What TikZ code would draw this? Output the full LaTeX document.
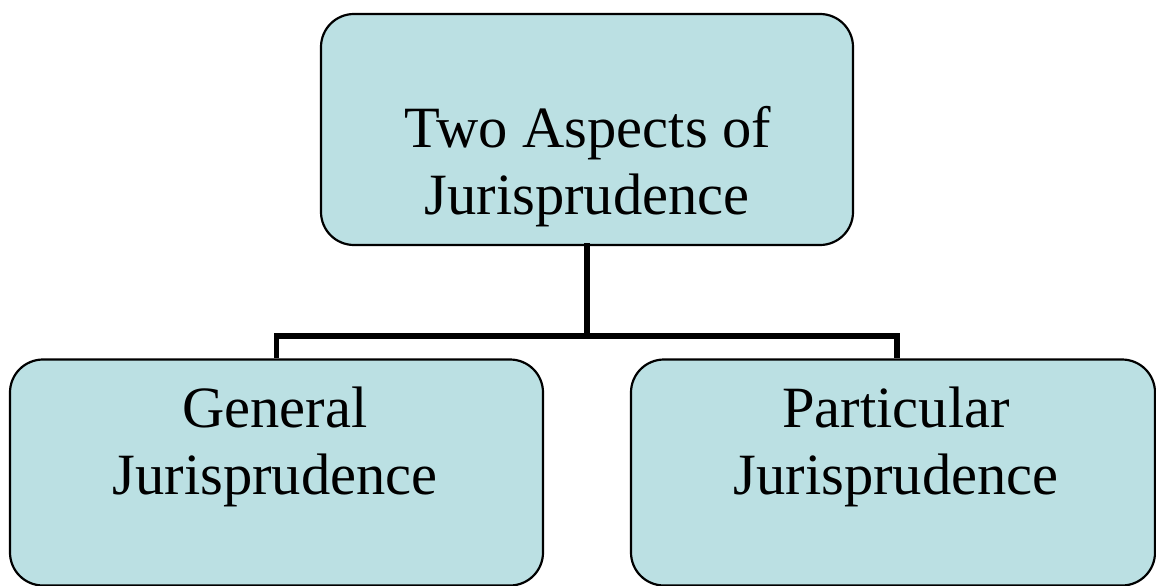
\documentclass[tikz,border=0pt]{standalone}
\usepackage{fontspec}
\setmainfont{Liberation Serif}
\begin{document}
\begin{tikzpicture}[x=1pt,y=-1pt,
  panel/.style={draw=black,line width=2.2pt,fill=boxfill,rounded corners=33pt,
    rectangle,inner sep=0pt},
  caption/.style={font=\fontsize{58.5}{67}\selectfont,anchor=base,inner sep=0pt},
  link/.style={line width=5.5pt,line cap=rect}]
\definecolor{boxfill}{RGB}{187,224,227}
\useasboundingbox (0,0) rectangle (1156,586);
% boxes
\node[panel,minimum width=532pt,minimum height=231pt] (top) at (587,129.5) {};
\node[panel,minimum width=533pt,minimum height=226pt] (left) at (276.5,472.5) {};
\node[panel,minimum width=524pt,minimum height=226pt] (right) at (893,472.5) {};
% texts
\node[caption] (t1) at (588,147) {Two Aspects of};
\node[caption] (t2) at (587,214) {Jurisprudence};
\node[caption] (l1) at (275,427) {General};
\node[caption] (l2) at (275,494) {Jurisprudence};
\node[caption] (r1) at (896,427) {Particular};
\node[caption] (r2) at (896,494) {Jurisprudence};
% tree connectors
\coordinate (fork) at (587,336);
\coordinate (lcorner) at (276.5,336);
\coordinate (rcorner) at (897,336);
\draw[link] (top.south) -- (fork);
\draw[line width=5.5pt,line join=miter] (left.north -| lcorner) -- (lcorner) -- (rcorner) -- (right.north -| rcorner);
\end{tikzpicture}
\end{document}
